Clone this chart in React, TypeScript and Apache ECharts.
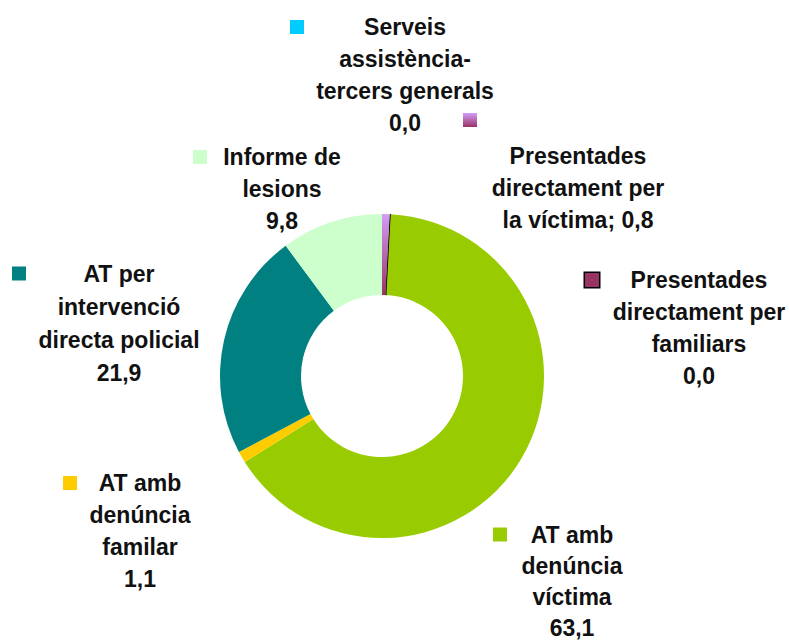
import React, { useEffect, useRef } from 'react';
import * as echarts from 'echarts';

// ---- data ----
const categories = [
  'Presentades directament per la víctima',
  'Presentades directament per familiars',
  'AT amb denúncia víctima',
  'AT amb denúncia familar',
  'AT per intervenció directa policial',
  'Informe de lesions',
  'Serveis assistència-tercers generals',
];
const values = [0.8, 0.03, 63.1, 1.1, 21.9, 9.8, 0.0];
const labelLines = [
  ['Presentades', 'directament per', 'la víctima'],
  ['Presentades', 'directament per', 'familiars'],
  ['AT amb', 'denúncia', 'víctima'],
  ['AT amb', 'denúncia', 'familar'],
  ['AT per', 'intervenció', 'directa policial'],
  ['Informe de', 'lesions'],
  ['Serveis', 'assistència-', 'tercers generals'],
];
const valueInline = [true, false, false, false, false, false, false];

// ---- styles / layout (not data) ----
const purpleGrad = new echarts.graphic.LinearGradient(0, 0, 0, 1, [
  { offset: 0, color: '#d39cf7' },
  { offset: 1, color: '#993366' },
]);
const colors: any[] = [purpleGrad, '#993366', '#99cc00', '#ffcc00', '#008080', '#ccffcc', '#00ccff'];
const labelPos = [
  { cx: 578, top: 100, markerLeft: 463, ownLine: true, lh: 32 },
  { cx: 699, top: 264, markerLeft: 585, lh: 32 },
  { cx: 572, top: 519, markerLeft: 493, lh: 31 },
  { cx: 140, top: 467, markerLeft: 63, lh: 32 },
  { cx: 119, top: 257, markerLeft: 12, lh: 33 },
  { cx: 282, top: 141, markerLeft: 193, lh: 32 },
  { cx: 405, top: 11, markerLeft: 290, lh: 32 },
];

const FONT = "'Liberation Sans', Arial, sans-serif";

function fmt(v: number) {
  return v.toFixed(1).replace('.', ',');
}

export default function App() {
  const ref = useRef<HTMLDivElement>(null);
  useEffect(() => {
    if (!ref.current) return;
    const chart = echarts.init(ref.current, undefined, { renderer: 'svg' });

    const rich: any = {
      sp: { width: 14, height: 14, align: 'right' },
    };
    colors.forEach((c, i) => {
      const lh = labelPos[i].lh;
      rich['t' + i] = { fontSize: 23, fontWeight: 'bold', fontFamily: FONT, color: '#111', lineHeight: lh, align: 'center' };
      rich['mk' + i] = {
        width: 14,
        height: 14,
        align: 'left',
        verticalAlign: 'middle',
        backgroundColor: c,
        borderColor: i === 1 ? '#000' : undefined,
        borderWidth: i === 1 ? 1.5 : 0,
        lineHeight: labelPos[i].ownLine ? 40 : lh,
      };
    });

    const formatter = (p: any) => {
      const i = p.dataIndex;
      const lines = labelLines[i].slice();
      const v = fmt(values[i]);
      if (valueInline[i]) lines[lines.length - 1] = lines[lines.length - 1] + '; ' + v;
      else lines.push(v);
      const out: string[] = [];
      if (labelPos[i].ownLine) {
        out.push(`{mk${i}|}`);
        lines.forEach((l) => out.push(`{t${i}|${l}}`));
      } else {
        out.push(`{mk${i}|}{t${i}|${lines[0]}}{sp|}`);
        lines.slice(1).forEach((l) => out.push(`{t${i}|${l}}`));
      }
      return out.join('\n');
    };

    chart.setOption({
      animation: false,
      backgroundColor: '#ffffff',
      series: [
        {
          type: 'pie',
          center: [382, 376],
          radius: [81, 162],
          startAngle: 90,
          clockwise: true,
          avoidLabelOverlap: false,
          silent: true,
          labelLine: { show: false },
          label: {
            show: true,
            position: 'outside',
            overflow: 'none',
            formatter,
            rich,
          },
          labelLayout: (p: any) => {
            const pos = labelPos[p.dataIndex];
            return { x: pos.cx, y: pos.top, align: 'center', verticalAlign: 'top' };
          },
          data: categories.map((name, i) => ({
            name,
            value: values[i],
            itemStyle: {
              color: colors[i],
              borderColor: i === 1 ? '#000' : undefined,
              borderWidth: i === 1 ? 1 : 0,
            },
            label: { width: 2 * (labelPos[i].cx - labelPos[i].markerLeft) },
          })),
        },
      ],
    });
    return () => chart.dispose();
  }, []);
  return <div ref={ref} style={{ position: 'absolute', left: 0, top: 0, width: 789, height: 644 }} />;
}
